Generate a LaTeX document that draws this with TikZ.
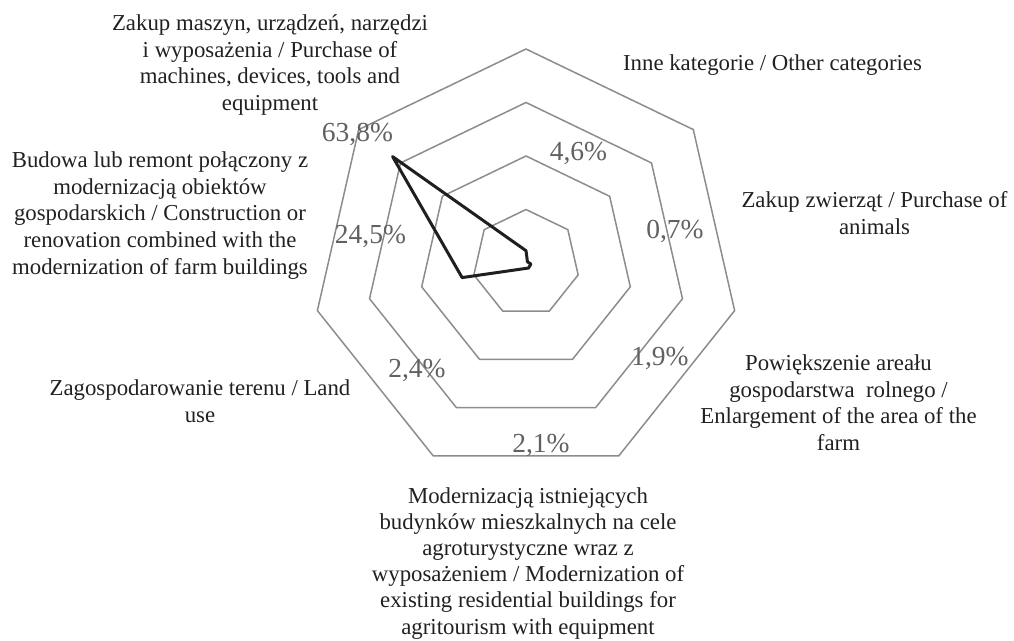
\documentclass[tikz,border=0pt]{standalone}
\usepackage{fontspec}
\setmainfont{Liberation Serif}
\begin{document}
\begin{tikzpicture}[x=1pt,y=-1pt,
  cat/.style={align=center, text=black!87, font=\fontsize{22.8}{26.7}\selectfont, inner sep=0pt, anchor=north},
  val/.style={text=black!62, font=\fontsize{27.5}{30}\selectfont, inner sep=0pt, anchor=base},
  ring/.style={draw=black!45, line width=1.5pt, line join=miter},
  series/.style={draw=black!88, line width=3pt, line join=round}]
\useasboundingbox (0,0) rectangle (1014,640);
\coordinate (c) at (526,263);
% grid rings
\foreach \r in {53.5,107,160.5,214} {
  \draw[ring] plot[samples at={0,...,6}, variable=\k]
    ({526+\r*cos(90-\k*360/7)},{263-\r*sin(90-\k*360/7)}) -- cycle;
}
% data points
\foreach \v [count=\k from 0] in {4.6,0.7,1.9,2.1,2.4,24.5,63.8} {
  \coordinate (d\k) at ({526+\v/80*214*cos(90-\k*360/7)},{263-\v/80*214*sin(90-\k*360/7)});
}
\draw[series] (d0) -- (d1) -- (d2) -- (d3) -- (d4) -- (d5) -- (d6) -- cycle;
% value labels
\node[val] (v1) at (357.5,141.6) {63,8\%};
\node[val] (v2) at (578.5,160.6) {4,6\%};
\node[val] (v3) at (675,238.6) {0,7\%};
\node[val] (v4) at (370.5,243.6) {24,5\%};
\node[val] (v5) at (660,365) {1,9\%};
\node[val] (v6) at (417,377) {2,4\%};
\node[val] (v7) at (541,452) {2,1\%};
% category labels
\node[cat] (k1) at (270,14.5) {Zakup maszyn, urządzeń, narzędzi\\ i wyposażenia / Purchase of\\ machines, devices, tools and\\ equipment};
\node[cat] (k2) at (772.5,54.5) {Inne kategorie / Other categories};
\node[cat] (k3) at (874.5,191.5) {Zakup zwierząt / Purchase of\\ animals};
\node[cat] (k4) at (838.5,354.5) {Powiększenie areału\\ gospodarstwa\ \ rolnego /\\ Enlargement of the area of the\\ farm};
\node[cat, font=\fontsize{22.8}{26.2}\selectfont] (k5) at (528,487) {Modernizacją istniejących\\ budynków mieszkalnych na cele\\ agroturystyczne wraz z\\ wyposażeniem / Modernization of\\ existing residential buildings for\\ agritourism with equipment};
\node[cat] (k6) at (200,379.5) {Zagospodarowanie terenu / Land\\ use};
\node[cat] (k7) at (160,151.5) {Budowa lub remont połączony z\\ modernizacją obiektów\\ gospodarskich / Construction or\\ renovation combined with the\\ modernization of farm buildings};
\end{tikzpicture}
\end{document}
